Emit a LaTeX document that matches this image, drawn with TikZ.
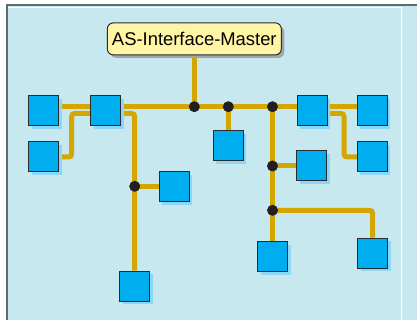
\documentclass[tikz,border=0pt]{standalone}
\usepackage{fontspec}
\setmainfont{Liberation Sans}
\usetikzlibrary{shadows}
\definecolor{bgblue}{RGB}{200,232,239}
\definecolor{framegray}{RGB}{100,104,108}
\definecolor{slavefill}{RGB}{0,174,239}
\definecolor{slaveshadow}{RGB}{140,214,246}
\definecolor{slaveedge}{RGB}{38,44,48}
\definecolor{wirecol}{RGB}{212,167,0}
\definecolor{dotcol}{RGB}{35,31,32}
\definecolor{masterfill}{RGB}{255,245,165}
\definecolor{mastershadow}{RGB}{160,166,170}
\pgfdeclarelayer{bg}
\pgfdeclarelayer{wires}
\pgfsetlayers{bg,wires,main}
\tikzset{
  slave/.style={draw=slaveedge, line width=1pt, fill=slavefill, minimum size=30pt, inner sep=0pt,
    drop shadow={shadow xshift=3pt, shadow yshift=-3pt, fill=slaveshadow, opacity=1}},
  junct/.style={circle, fill=dotcol, minimum size=11pt, inner sep=0pt},
  wire/.style={draw=wirecol, line width=5pt, rounded corners=3pt},
  masterbox/.style={draw=slaveedge, line width=1pt, fill=masterfill, rounded corners=6pt,
    minimum width=174pt, minimum height=32pt, inner sep=0pt,
    font=\fontsize{18.4}{20}\selectfont,
    drop shadow={shadow xshift=3pt, shadow yshift=-3pt, fill=mastershadow, opacity=1}}
}
\begin{document}
\begin{tikzpicture}[x=1pt,y=-1pt]
\useasboundingbox (0,0) rectangle (417,320);
\begin{pgfonlayer}{bg}
\fill[bgblue] (6,5) rectangle (417,320);
\draw[white, line width=1pt] (7.5,7.8) -- (401.5,7.8) -- (401.5,320);
\draw[framegray, line width=2pt] (6.5,320) -- (6.5,5.5) -- (417,5.5);
\end{pgfonlayer}

% master
\node[masterbox] (master) at (194.3,38.9) {AS-Interface-Master};

% slaves
\node[slave] (A) at (43.7,111) {};
\node[slave] (B) at (105.7,111) {};
\node[slave] (C) at (43.7,157) {};
\node[slave] (D) at (174,186.7) {};
\node[slave] (E) at (134.7,286) {};
\node[slave] (F) at (228.3,145.7) {};
\node[slave] (G) at (312,111) {};
\node[slave] (H) at (372.3,111) {};
\node[slave] (I) at (372.3,157) {};
\node[slave] (J) at (311.7,166) {};
\node[slave] (K) at (372.5,253) {};
\node[slave] (L) at (272.5,256.7) {};

% junctions
\node[junct] (j1) at (194.3,106.7) {};
\node[junct] (j2) at (228.3,106.7) {};
\node[junct] (j3) at (272.5,106.7) {};
\node[junct] (j4) at (134.7,186.3) {};
\node[junct] (j5) at (272.5,166) {};
\node[junct] (j6) at (272.5,210.3) {};

\coordinate (bl) at (71.7,113.5);
\coordinate (br) at (134.7,113.5);
\coordinate (gr) at (344,113.5);

\begin{pgfonlayer}{wires}
\draw[wire] (A.east |- j1) -- (H.west |- j1);
\draw[wire] (master.south) -- (j1.center);
\draw[wire] (j2.center) -- (F.north);
\draw[wire] (j3.center) -- (L.north);
\draw[wire] (j5.center) -- (J.west);
\draw[wire] (j6.center) -| (K.north);
\draw[wire] (j4.center) -- (D.west |- j4);
\draw[wire] (B.west |- bl) -| (C.east -| bl) -- (C.east);
\draw[wire] (B.east |- br) -| (E.north);
\draw[wire] (G.east |- gr) -| (I.west -| gr) -- (I.west);
\end{pgfonlayer}
\end{tikzpicture}
\end{document}
